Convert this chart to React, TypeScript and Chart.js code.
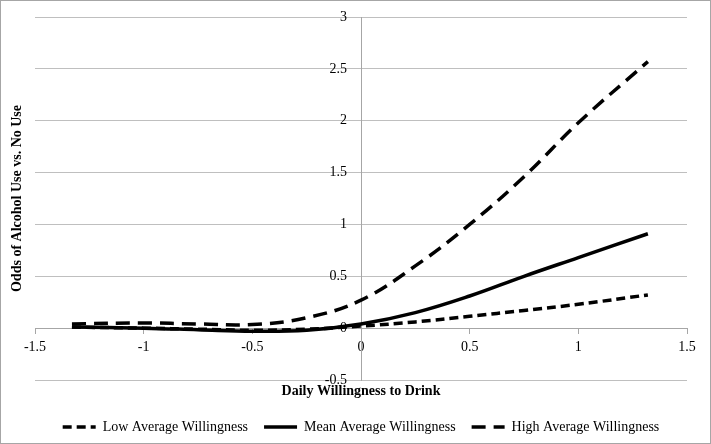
import React, { useEffect, useRef } from "react";
import { Chart, registerables } from "chart.js";

Chart.register(...registerables);

const xValues = [-1.33, -1, -0.75, -0.5, -0.25, 0, 0.25, 0.5, 0.75, 1, 1.32];
const lowAverage = [0.01, 0.0, -0.01, -0.02, -0.01, 0.02, 0.06, 0.115, 0.17, 0.23, 0.32];
const meanAverage = [0.01, 0.0, -0.015, -0.03, -0.02, 0.04, 0.15, 0.31, 0.5, 0.68, 0.91];
const highAverage = [0.04, 0.05, 0.04, 0.035, 0.1, 0.27, 0.6, 1.0, 1.46, 1.98, 2.57];
const seriesLabels = ["Low Average Willingness", "Mean Average Willingness", "High Average Willingness"];
const seriesDashes = [[9, 5], [], [14, 8]];
const xTitle = "Daily Willingness to Drink";
const yTitle = "Odds of Alcohol Use vs. No Use";

const FONT = "'Liberation Serif', 'Times New Roman', serif";

const toPoints = (ys: number[]) => xValues.map((x, i) => ({ x, y: ys[i] }));

const framePlugin = {
  id: "frame",
  beforeDraw(chart: any) {
    const { ctx, width, height } = chart;
    ctx.save();
    ctx.fillStyle = "#ffffff";
    ctx.fillRect(0, 0, width, height);
    ctx.restore();
  },
  afterDraw(chart: any) {
    const { ctx, width, height, chartArea } = chart;
    ctx.save();
    ctx.strokeStyle = "#a6a6a6";
    ctx.lineWidth = 1;
    ctx.strokeRect(0.5, 0.5, width - 1, height - 1);
    ctx.translate(17, (chartArea.top + chartArea.bottom) / 2);
    ctx.rotate(-Math.PI / 2);
    ctx.font = `bold 14px ${FONT}`;
    ctx.fillStyle = "#000000";
    ctx.textAlign = "center";
    ctx.textBaseline = "middle";
    ctx.fillText(yTitle, 0, 0);
    ctx.restore();
  },
};

export default function App() {
  const ref = useRef<HTMLCanvasElement | null>(null);

  useEffect(() => {
    if (!ref.current) return;
    const common = {
      borderColor: "#000000",
      backgroundColor: "#000000",
      borderWidth: 3.5,
      pointRadius: 0,
      tension: 0.4,
      fill: false,
    };
    const series = [lowAverage, meanAverage, highAverage];
    const chart = new Chart(ref.current, {
      type: "line",
      data: {
        datasets: series.map((ys, i) => ({
          ...common,
          label: seriesLabels[i],
          data: toPoints(ys),
          borderDash: seriesDashes[i],
        })),
      },
      options: {
        animation: false,
        responsive: false,
        layout: { padding: { left: 35, right: 24, top: 17, bottom: 0 } },
        scales: {
          x: {
            type: "linear",
            position: { y: 0 } as any,
            min: -1.5,
            max: 1.5,
            ticks: {
              stepSize: 0.5,
              color: "#000000",
              font: { family: FONT, size: 14 },
              padding: 6,
              maxRotation: 0,
              callback: (v: any) => String(v),
            },
            grid: { drawOnChartArea: false, drawTicks: true, tickLength: 5, color: "#a6a6a6" },
            border: { display: true, color: "#a6a6a6" },
          },
          y: {
            type: "linear",
            position: { x: 0 } as any,
            min: -0.5,
            max: 3,
            ticks: {
              stepSize: 0.5,
              color: "#000000",
              font: { family: FONT, size: 14 },
              padding: 0,
              callback: (v: any) => String(v) + "    ",
            },
            grid: { drawTicks: false, color: "#bfbfbf" },
            border: { display: true, color: "#a6a6a6" },
          },
        },
        plugins: {
          tooltip: { enabled: false },
          legend: {
            position: "bottom",
            labels: {
              usePointStyle: true,
              pointStyle: "line",
              pointStyleWidth: 33,
              boxWidth: 33,
              padding: 16,
              color: "#000000",
              font: { family: FONT, size: 14 },
              generateLabels: (c: any) => {
                const items = Chart.defaults.plugins.legend.labels.generateLabels(c);
                return items.map((it: any, i: number) => ({
                  ...it,
                  lineDash: seriesDashes[i],
                  lineWidth: 3.5,
                  strokeStyle: "#000000",
                  pointStyle: "line",
                }));
              },
            },
            title: {
              display: true,
              text: xTitle,
              color: "#000000",
              font: { family: FONT, size: 14, weight: "bold" },
              padding: { top: 4, bottom: 3.2 },
            },
          },
        },
      },
      plugins: [framePlugin],
    } as any);
    return () => chart.destroy();
  }, []);

  return (
    <div style={{ position: "fixed", left: 0, top: 0, width: 711, height: 444 }}>
      <canvas ref={ref} width={711} height={444} style={{ display: "block" }} />
    </div>
  );
}
